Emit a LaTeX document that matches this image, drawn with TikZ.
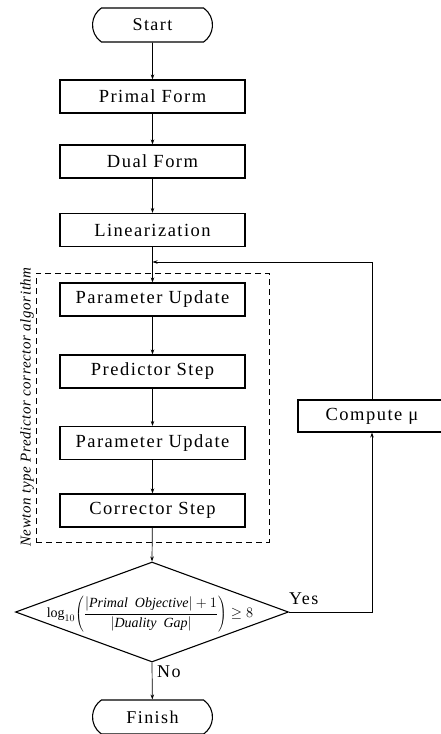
\documentclass[tikz,border=0pt]{standalone}
\usepackage{fontspec}
\setmainfont{Liberation Serif}
\newfontfamily\boxfont[LetterSpace=8]{Liberation Serif}
\newfontfamily\sidefont[LetterSpace=4]{Liberation Serif}
\usetikzlibrary{shapes.geometric,shapes.misc,arrows.meta}
\begin{document}
\begin{tikzpicture}[x=1pt,y=-1pt,
  box/.style={draw, line width=1.1pt, minimum width=185pt, minimum height=33pt, inner sep=0pt,
    font=\boxfont\fontsize{18.5}{22}\selectfont},
  term/.style={draw, rounded rectangle, rounded rectangle arc length=110, line width=1.1pt,
    minimum width=120pt, minimum height=34pt, inner sep=0pt, font=\boxfont\fontsize{18}{22}\selectfont},
  conn/.style={line width=0.7pt, -{Stealth[length=5pt,width=3.5pt]}},
  lbl/.style={inner sep=0pt, font=\boxfont\fontsize{18}{22}\selectfont},
  group/.style={draw, line width=0.9pt, dash pattern=on 6pt off 4pt}
]
\clip (0,0) rectangle (441,734);
\node[term] (start) at (152.5,25) {Start};
\node[box] (primal) at (152.5,96.5) {Primal Form};
\node[box] (dual) at (152.5,161.5) {Dual Form};
\node[box] (lin) at (152.5,230) {Linearization};
\node[box] (pu1) at (152.5,299.5) {Parameter Update};
\node[box] (pred) at (152.5,371.5) {Predictor Step};
\node[box] (pu2) at (152.5,443) {Parameter Update};
\node[box] (corr) at (152.5,510.5) {Corrector Step};
\node[group, minimum width=233pt, minimum height=269pt, inner sep=0pt] (grp) at (152.5,407.5) {};
\node[rotate=90, inner sep=0pt, font=\sidefont\fontsize{15}{17}\selectfont\itshape] (newton) at (27,407)
  {Newton type Predictor corrector algorithm};
\node[diamond, draw, line width=1.1pt, minimum width=273pt, minimum height=100pt, inner sep=0pt] (dec) at (152,612) {};
\node[inner sep=0pt, font=\fontsize{14}{16}\selectfont] (formula) at (150,614)
  {$\displaystyle \log_{10}\!\left(\frac{\left|\textit{Primal\ \ Objective}\right|+1}{\left|\textit{Duality\ \ Gap}\right|}\right)\geq 8$};
\node[term] (finish) at (152.5,717) {Finish};
\node[box, minimum width=148pt, minimum height=32pt] (comp) at (372,416) {Compute μ};
\node[lbl, anchor=base west] (yes) at (289,604) {Yes};
\node[lbl, anchor=base west] (no) at (157,677) {No};
\coordinate (join) at (152.5,262);
\draw[conn] (start) -- (primal);
\draw[conn] (primal) -- (dual);
\draw[conn] (dual) -- (lin);
\draw[conn] (lin) -- (pu1);
\draw[conn] (pu1) -- (pred);
\draw[conn] (pred) -- (pu2);
\draw[conn] (pu2) -- (corr);
\draw[conn] (corr) -- (dec.north);
\draw[conn] (dec.east) -| (comp.south);
\draw[conn] (comp.north) |- (join);
\draw[conn] (dec.south) -- (finish);
\end{tikzpicture}
\end{document}
